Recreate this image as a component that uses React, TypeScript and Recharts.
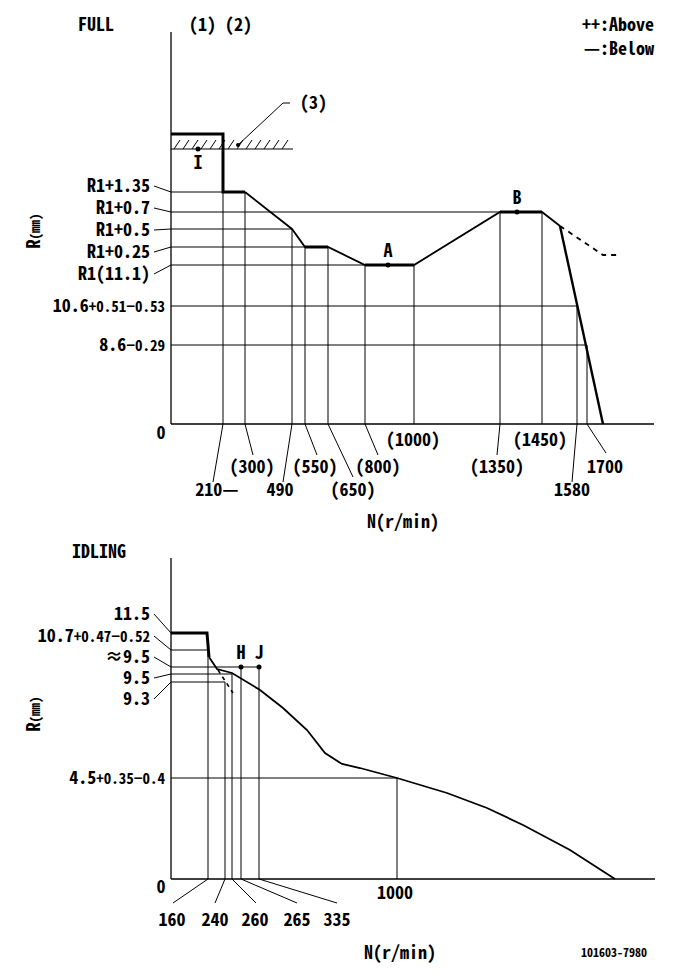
import React from "react";
import { ComposedChart, Line, XAxis, YAxis, ReferenceLine, ReferenceDot, ReferenceArea } from "recharts";

const FONT = "'Noto Sans Mono CJK JP', 'Liberation Sans Narrow', 'DejaVu Sans Condensed', sans-serif";
const txt = { fontFamily: FONT, fontWeight: 700, fontSize: 18, fill: "#000" };

// The drawing is schematic: x / y are positions along the N and R axes, not to scale.

// ---------- FULL ----------
const fullN = [52, 74, 121, 134, 157, 194, 243, 329, 371, 406, 416];
const fullNLabels = ["210—", "(300)", "490", "(550)", "(650)", "(800)", "(1000)", "(1350)", "(1450)", "1580", "1700"];
const fullNTop = [232, 232, 195, 177, 177, 159, 159, 212, 212, 118, 79];

const fullR = [232, 212, 195, 177, 159, 118, 79];
const fullRLabels = ["R1+1.35", "R1+0.7", "R1+0.5", "R1+0.25", "R1(11.1)", "10.6", "8.6"];
const fullRTol = ["", "", "", "", "", "+0.51−0.53", "−0.29"];
const fullREnd = [52, 329, 121, 134, 194, 406, 416];

const fullThin = [[74, 232], [121, 195], [134, 177], [157, 177], [194, 159], [243, 159], [329, 212], [371, 212], [389, 198]];
const fullStop = [[0, 290], [52, 290], [52, 232], [74, 232]];
const fullPlateaus = [
  [[134, 177], [157, 177]],
  [[194, 159], [243, 159]],
  [[329, 212], [371, 212]],
];
const fullDrop = [[389, 198], [432, 0]];
const fullBelow = [[389, 198], [432, 169], [446, 169]];
const fullHatch = { x1: 0, x2: 122, y: 275 };
const fullLeader3 = [[67, 279], [112, 321], [119, 321]];
const fullMarks = [
  { x: 27, y: 275, label: "I" },
  { x: 217, y: 159, label: "A" },
  { x: 346, y: 212, label: "B" },
];

// ---------- IDLING ----------
const idleN = [37, 54, 61, 70, 88, 226];
const idleNLabels = ["160", "240", "260", "265", "335", "1000"];
const idleNTop = [229, 197, 205, 212, 212, 101];

const idleR = [246, 229, 212, 205, 197, 101];
const idleRLabels = ["11.5", "10.7", "≈9.5", "9.5", "9.3", "4.5"];
const idleRTol = ["", "+0.47−0.52", "", "", "", "+0.35−0.4"];
const idleREnd = [0, 37, 88, 61, 54, 226];

const idleStop = [[0, 246], [36, 246], [38, 222]];
const idleThin = [[38, 222], [46, 210], [61, 206], [89, 189], [112, 171], [136, 149], [154, 126], [171, 115], [189, 111], [226, 101], [276, 86], [316, 71], [352, 54], [399, 29], [444, 0]];
const idleBelow = [[47, 209], [62, 186]];
const idleMarks = [
  { x: 70, y: 212, label: "H" },
  { x: 88, y: 212, label: "J" },
];

// label placement (offsets from the tick foot)
type NPos = { ex?: number; ey?: number; lx: number; ly: number };
const fullNLayout: NPos[] = [
  { ex: -10, ey: 58, lx: -6, ly: 66 },
  { ex: 8, ey: 31, lx: 7, ly: 43 },
  { ex: -9, ey: 58, lx: -12, ly: 66 },
  { ex: 12, ey: 31, lx: 10, ly: 43 },
  { ex: 25, ey: 53, lx: 25, ly: 66 },
  { ex: 13, ey: 31, lx: 13, ly: 43 },
  { lx: -1, ly: 16 },
  { ex: -3, ey: 31, lx: -3, ly: 43 },
  { lx: -2, ly: 16 },
  { ex: -5, ey: 58, lx: -5, ly: 66 },
  { ex: 19, ey: 29, lx: 18, ly: 43 },
];
const idleNLayout: NPos[] = [
  { ex: -35, ey: 24, lx: -36, ly: 41 },
  { ex: -10, ey: 24, lx: -10, ly: 41 },
  { ex: 24, ey: 24, lx: 23, ly: 41 },
  { ex: 56, ey: 24, lx: 56, ly: 41 },
  { ex: 78, ey: 24, lx: 78, ly: 41 },
  { lx: -2, ly: 14 },
];
type RPos = { dy: number; leader: boolean };
const fullRLayout: RPos[] = [
  { dy: -6, leader: true },
  { dy: -4, leader: true },
  { dy: 1, leader: true },
  { dy: 5, leader: true },
  { dy: 9, leader: true },
  { dy: 0, leader: false },
  { dy: 0, leader: false },
];
const idleRLayout: RPos[] = [
  { dy: -19, leader: true },
  { dy: -14, leader: true },
  { dy: -10, leader: true },
  { dy: 4, leader: true },
  { dy: 17, leader: true },
  { dy: 0, leader: false },
];

const pts = (a: number[][]) => a.map(([x, y]) => ({ x, y }));

const nTick = (ticks: number[], labels: string[], layout: NPos[]) => (props: any) => {
  const { x, y, payload } = props;
  const i = ticks.indexOf(payload.value);
  if (i < 0) return <g />;
  const l = layout[i];
  return (
    <g>
      {l.ex !== undefined && <line x1={x} y1={y} x2={x + l.ex} y2={y + (l.ey as number)} stroke="#000" strokeWidth={1} />}
      <text x={x + l.lx} y={y + l.ly} dy="0.35em" textAnchor="middle" style={txt}>{labels[i]}</text>
    </g>
  );
};

const rTick = (ticks: number[], labels: string[], tols: string[], layout: RPos[]) => (props: any) => {
  const { x, y, payload } = props;
  const i = ticks.indexOf(payload.value);
  if (i < 0) return <g />;
  const l = layout[i];
  const ty = y + l.dy;
  return (
    <g>
      {l.leader && <line x1={x - 17} y1={ty} x2={x} y2={y} stroke="#000" strokeWidth={1} />}
      <text x={l.leader ? x - 21 : x - 6} y={ty} dy="0.35em" textAnchor="end" style={txt}>
        {labels[i]}
        {tols[i] && <tspan style={{ fontSize: 15 }}>{tols[i]}</tspan>}
      </text>
    </g>
  );
};

const markShape = (label: string, below = false) => (p: any) => (
  <g>
    <circle cx={p.cx} cy={p.cy} r={2.5} fill="#000" />
    <text x={p.cx} y={below ? p.cy + 14 : p.cy - 14} dy="0.35em" textAnchor="middle" style={txt}>{label}</text>
  </g>
);

const hatchShape = (p: any) => {
  const marks = [];
  for (let hx = p.x + 3; hx < p.x + p.width - 4; hx += 9) {
    marks.push(<line key={hx} x1={hx} y1={p.y + p.height} x2={hx + 6} y2={p.y} stroke="#000" strokeWidth={1} />);
  }
  return <g>{marks}</g>;
};

const seg = (x1: number, y1: number, x2: number, y2: number, w = 1) => (
  <ReferenceLine
    key={`${x1}-${y1}-${x2}-${y2}`}
    segment={[{ x: x1, y: y1 }, { x: x2, y: y2 }]}
    stroke="#000"
    strokeWidth={w}
  />
);

const curve = (key: string, data: number[][], w: number, dash?: string) => (
  <Line
    key={key}
    data={pts(data)}
    dataKey="y"
    type="linear"
    stroke="#000"
    strokeWidth={w}
    strokeDasharray={dash}
    dot={false}
    activeDot={false}
    isAnimationActive={false}
  />
);

function FullChart() {
  return (
    <ComposedChart width={681} height={536} margin={{ top: 32, right: 27, bottom: 0, left: 0 }}>
      <XAxis
        type="number"
        dataKey="x"
        domain={[0, 483]}
        ticks={fullN}
        interval={0}
        tickSize={0}
        tickMargin={0}
        height={112}
        axisLine={{ stroke: "#000", strokeWidth: 1.3 }}
        tick={nTick(fullN, fullNLabels, fullNLayout)}
      />
      <YAxis
        type="number"
        domain={[0, 392]}
        ticks={fullR}
        interval={0}
        tickSize={0}
        tickMargin={0}
        width={171}
        axisLine={{ stroke: "#000", strokeWidth: 1.3 }}
        tick={rTick(fullR, fullRLabels, fullRTol, fullRLayout)}
      />
      {fullN.map((n, i) => seg(n, 0, n, fullNTop[i]))}
      {fullR.map((r, i) => seg(0, r, fullREnd[i], r))}
      {seg(fullHatch.x1, fullHatch.y, fullHatch.x2, fullHatch.y)}
      <ReferenceArea x1={fullHatch.x1} x2={fullHatch.x2} y1={fullHatch.y} y2={fullHatch.y + 9} shape={hatchShape} />
      {seg(fullLeader3[0][0], fullLeader3[0][1], fullLeader3[1][0], fullLeader3[1][1])}
      {seg(fullLeader3[1][0], fullLeader3[1][1], fullLeader3[2][0], fullLeader3[2][1])}
      <ReferenceDot x={fullLeader3[0][0]} y={fullLeader3[0][1]} r={2} fill="#000" stroke="none" />
      {curve("thin", fullThin, 1.8)}
      {curve("stop", fullStop, 3)}
      {fullPlateaus.map((p, i) => curve(`pl${i}`, p, 3))}
      {curve("drop", fullDrop, 2.4)}
      {curve("below", fullBelow, 1.8, "5 5")}
      {fullMarks.map((m) => (
        <ReferenceDot key={m.label} x={m.x} y={m.y} shape={markShape(m.label, m.label === "I")} />
      ))}
      <text x={78} y={25} dy="0.35em" style={txt}>FULL</text>
      <text x={189} y={25} dy="0.35em" style={txt}>(1) (2)</text>
      <text x={300} y={103} dy="0.35em" style={txt}>(3)</text>
      <text x={654} y={25} dy="0.35em" textAnchor="end" style={txt}>++:Above</text>
      <text x={654} y={49} dy="0.35em" textAnchor="end" style={txt}>—:Below</text>
      <text x={161} y={433} dy="0.35em" textAnchor="middle" style={txt}>0</text>
      <text x={403} y={522} dy="0.35em" textAnchor="middle" style={txt}>N(r/min)</text>
      <text x={34} y={231} dy="0.35em" textAnchor="middle" transform="rotate(-90 34 231)" style={txt}>
        R<tspan style={{ fontSize: 13 }}>(mm)</tspan>
      </text>
    </ComposedChart>
  );
}

function IdleChart() {
  return (
    <ComposedChart width={681} height={443} margin={{ top: 22, right: 26, bottom: 0, left: 0 }}>
      <XAxis
        type="number"
        dataKey="x"
        domain={[0, 484]}
        ticks={idleN}
        interval={0}
        tickSize={0}
        tickMargin={0}
        height={100}
        axisLine={{ stroke: "#000", strokeWidth: 1.3 }}
        tick={nTick(idleN, idleNLabels, idleNLayout)}
      />
      <YAxis
        type="number"
        domain={[0, 321]}
        ticks={idleR}
        interval={0}
        tickSize={0}
        tickMargin={0}
        width={171}
        axisLine={{ stroke: "#000", strokeWidth: 1.3 }}
        tick={rTick(idleR, idleRLabels, idleRTol, idleRLayout)}
      />
      {idleN.map((n, i) => seg(n, 0, n, idleNTop[i]))}
      {idleR.map((r, i) => (idleREnd[i] > 0 ? seg(0, r, idleREnd[i], r) : null))}
      {curve("thin", idleThin, 1.8)}
      {curve("stop", idleStop, 3)}
      {curve("below", idleBelow, 1.6, "4 4")}
      {idleMarks.map((m) => (
        <ReferenceDot key={m.label} x={m.x} y={m.y} shape={markShape(m.label)} />
      ))}
      <text x={72} y={16} dy="0.35em" style={txt}>IDLING</text>
      <text x={161} y={351} dy="0.35em" textAnchor="middle" style={txt}>0</text>
      <text x={400} y={417} dy="0.35em" textAnchor="middle" style={txt}>N(r/min)</text>
      <text x={647} y={417} dy="0.35em" textAnchor="end" style={{ ...txt, fontSize: 12 }}>101603-7980</text>
      <text x={34} y={178} dy="0.35em" textAnchor="middle" transform="rotate(-90 34 178)" style={txt}>
        R<tspan style={{ fontSize: 13 }}>(mm)</tspan>
      </text>
    </ComposedChart>
  );
}

export default function App() {
  return (
    <div style={{ position: "absolute", left: 0, top: 0, width: 681, height: 979, background: "#fff" }}>
      <div style={{ position: "absolute", left: 0, top: 0 }}>
        <FullChart />
      </div>
      <div style={{ position: "absolute", left: 0, top: 536 }}>
        <IdleChart />
      </div>
    </div>
  );
}
